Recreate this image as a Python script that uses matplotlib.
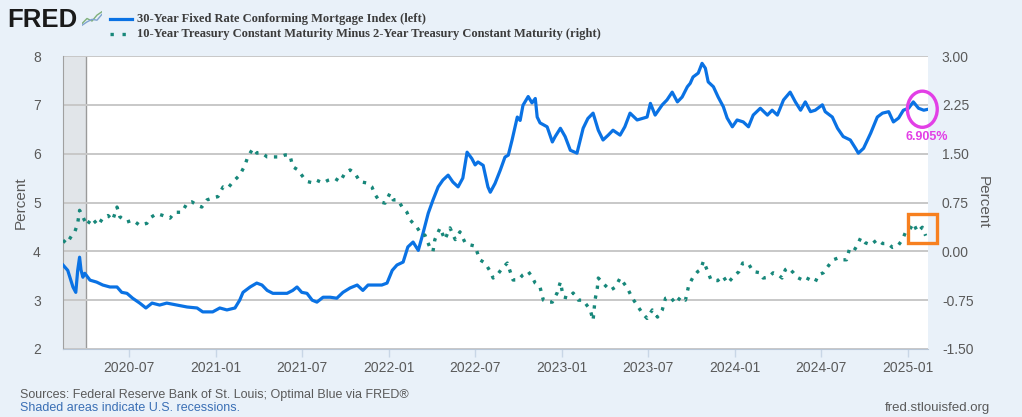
import pandas as pd
import matplotlib
matplotlib.use('Agg')
import matplotlib.pyplot as plt
import matplotlib.dates as mdates
from matplotlib.patches import Ellipse, Rectangle

# 30-year fixed mortgage index (left axis)
mort_dates = [
    '2020-02-13', '2020-02-23', '2020-03-05', '2020-03-11', '2020-03-15', '2020-03-19', '2020-03-22',
    '2020-03-26', '2020-03-30', '2020-04-10', '2020-04-24', '2020-05-07', '2020-05-22', '2020-06-06',
    '2020-06-16', '2020-06-27', '2020-07-09', '2020-07-24', '2020-08-06', '2020-08-19', '2020-09-04',
    '2020-09-19', '2020-10-10', '2020-11-01', '2020-11-22', '2020-12-04', '2020-12-25', '2021-01-09',
    '2021-01-24', '2021-02-10', '2021-02-20', '2021-02-27', '2021-03-14', '2021-03-28', '2021-04-08',
    '2021-04-19', '2021-05-01', '2021-05-16', '2021-05-31', '2021-06-12', '2021-06-21', '2021-07-01',
    '2021-07-12', '2021-07-23', '2021-08-02', '2021-08-15', '2021-08-30', '2021-09-13', '2021-09-26',
    '2021-10-11', '2021-10-26', '2021-11-07', '2021-11-18', '2021-12-03', '2021-12-17', '2021-12-28',
    '2022-01-08', '2022-01-18', '2022-01-31', '2022-02-10', '2022-02-21', '2022-03-04', '2022-03-14',
    '2022-03-25', '2022-04-04', '2022-04-15', '2022-04-25', '2022-05-06', '2022-05-16', '2022-05-27',
    '2022-06-06', '2022-06-15', '2022-06-25', '2022-07-02', '2022-07-08', '2022-07-19', '2022-07-29',
    '2022-08-03', '2022-08-13', '2022-08-24', '2022-09-03', '2022-09-10', '2022-09-18', '2022-09-29',
    '2022-10-05', '2022-10-11', '2022-10-22', '2022-10-30', '2022-11-06', '2022-11-10', '2022-11-16',
    '2022-12-01', '2022-12-12', '2022-12-18', '2022-12-29', '2023-01-08', '2023-01-19', '2023-02-02',
    '2023-02-15', '2023-02-25', '2023-03-08', '2023-03-19', '2023-03-29', '2023-04-09', '2023-04-19',
    '2023-05-04', '2023-05-14', '2023-05-25', '2023-06-09', '2023-06-30', '2023-07-07', '2023-07-17',
    '2023-08-01', '2023-08-11', '2023-08-22', '2023-09-02', '2023-09-12', '2023-09-23', '2023-09-29',
    '2023-10-05', '2023-10-16', '2023-10-24', '2023-10-31', '2023-11-06', '2023-11-17', '2023-11-27',
    '2023-12-08', '2023-12-16', '2023-12-27', '2024-01-06', '2024-01-19', '2024-01-30', '2024-02-09',
    '2024-02-24', '2024-03-10', '2024-03-20', '2024-03-31', '2024-04-13', '2024-04-27', '2024-05-08',
    '2024-05-19', '2024-05-29', '2024-06-09', '2024-06-19', '2024-07-04', '2024-07-10', '2024-07-25',
    '2024-08-05', '2024-08-17', '2024-09-01', '2024-09-12', '2024-09-18', '2024-09-29', '2024-10-14',
    '2024-10-28', '2024-11-08', '2024-11-21', '2024-12-01', '2024-12-12', '2024-12-22', '2025-01-02',
    '2025-01-12', '2025-01-23', '2025-02-03', '2025-02-10',
]
mort_values = [
    3.72, 3.61, 3.27, 3.16, 3.61, 3.88, 3.62,
    3.47, 3.55, 3.41, 3.37, 3.31, 3.27, 3.27,
    3.16, 3.14, 3.04, 2.94, 2.84, 2.94, 2.90,
    2.94, 2.90, 2.86, 2.84, 2.76, 2.76, 2.84,
    2.80, 2.84, 3.00, 3.16, 3.27, 3.35, 3.31,
    3.20, 3.14, 3.14, 3.14, 3.20, 3.27, 3.16,
    3.14, 3.00, 2.96, 3.06, 3.06, 3.04, 3.16,
    3.25, 3.31, 3.20, 3.31, 3.31, 3.31, 3.35,
    3.61, 3.72, 3.78, 4.09, 4.19, 4.02, 4.37,
    4.78, 5.05, 5.32, 5.46, 5.56, 5.42, 5.32,
    5.50, 6.03, 5.90, 5.77, 5.83, 5.76, 5.32,
    5.21, 5.39, 5.66, 5.93, 5.97, 6.28, 6.75,
    6.68, 6.99, 7.17, 7.04, 7.13, 6.75, 6.63,
    6.55, 6.24, 6.35, 6.52, 6.35, 6.07, 6.01,
    6.52, 6.72, 6.83, 6.48, 6.28, 6.38, 6.48,
    6.38, 6.55, 6.83, 6.69, 6.75, 7.03, 6.79,
    7.00, 7.10, 7.26, 7.06, 7.16, 7.37, 7.44,
    7.57, 7.65, 7.85, 7.75, 7.47, 7.37, 7.16,
    6.96, 6.73, 6.55, 6.69, 6.65, 6.55, 6.79,
    6.93, 6.79, 6.89, 6.79, 7.10, 7.26, 7.06,
    6.89, 7.06, 6.86, 6.89, 7.00, 6.86, 6.75,
    6.52, 6.35, 6.28, 6.11, 6.01, 6.11, 6.42,
    6.75, 6.83, 6.86, 6.65, 6.73, 6.89, 6.93,
    7.06, 6.93, 6.89, 6.905,
]

# 10y minus 2y treasury spread (right axis)
spread_dates = [
    '2020-02-13', '2020-02-21', '2020-03-03', '2020-03-09', '2020-03-15', '2020-03-19', '2020-03-26',
    '2020-04-03', '2020-04-14', '2020-04-27', '2020-05-07', '2020-05-18', '2020-05-28', '2020-06-06',
    '2020-06-12', '2020-06-27', '2020-07-09', '2020-07-24', '2020-08-08', '2020-08-14', '2020-08-29',
    '2020-09-11', '2020-09-26', '2020-10-06', '2020-10-21', '2020-11-01', '2020-11-11', '2020-11-22',
    '2020-12-02', '2020-12-13', '2020-12-25', '2021-01-05', '2021-01-16', '2021-01-26', '2021-02-06',
    '2021-02-20', '2021-03-03', '2021-03-09', '2021-03-20', '2021-03-28', '2021-04-08', '2021-04-19',
    '2021-05-01', '2021-05-16', '2021-05-27', '2021-06-06', '2021-06-12', '2021-06-23', '2021-07-04',
    '2021-07-14', '2021-07-25', '2021-08-02', '2021-08-15', '2021-08-25', '2021-09-09', '2021-09-20',
    '2021-09-30', '2021-10-11', '2021-10-21', '2021-11-01', '2021-11-15', '2021-11-26', '2021-12-03',
    '2021-12-13', '2021-12-24', '2022-01-03', '2022-01-10', '2022-01-20', '2022-01-29', '2022-02-08',
    '2022-02-15', '2022-03-01', '2022-03-12', '2022-03-18', '2022-03-29', '2022-04-04', '2022-04-08',
    '2022-04-19', '2022-04-29', '2022-05-10', '2022-05-21', '2022-05-31', '2022-06-11', '2022-06-21',
    '2022-07-02', '2022-07-08', '2022-07-12', '2022-07-23', '2022-08-03', '2022-08-09', '2022-08-18',
    '2022-08-28', '2022-09-08', '2022-09-14', '2022-09-20', '2022-10-01', '2022-10-11', '2022-10-22',
    '2022-10-30', '2022-11-06', '2022-11-16', '2022-11-23', '2022-12-01', '2022-12-12', '2022-12-22',
    '2022-12-29', '2023-01-04', '2023-01-15', '2023-01-25', '2023-02-05', '2023-02-15', '2023-03-02',
    '2023-03-08', '2023-03-12', '2023-03-17', '2023-03-19', '2023-03-29', '2023-04-13', '2023-04-24',
    '2023-05-04', '2023-05-19', '2023-05-30', '2023-06-09', '2023-06-20', '2023-06-30', '2023-07-11',
    '2023-07-22', '2023-08-01', '2023-08-08', '2023-08-18', '2023-08-29', '2023-09-09', '2023-09-19',
    '2023-09-26', '2023-10-04', '2023-10-15', '2023-10-21', '2023-10-27', '2023-11-05', '2023-11-12',
    '2023-11-26', '2023-12-07', '2023-12-17', '2023-12-28', '2024-01-10', '2024-01-18', '2024-01-29',
    '2024-02-09', '2024-02-24', '2024-03-01', '2024-03-12', '2024-03-22', '2024-04-02', '2024-04-10',
    '2024-04-17', '2024-04-23', '2024-05-04', '2024-05-12', '2024-05-23', '2024-05-29', '2024-06-09',
    '2024-06-19', '2024-06-26', '2024-07-06', '2024-07-15', '2024-07-21', '2024-07-27', '2024-08-07',
    '2024-08-15', '2024-08-24', '2024-08-30', '2024-09-08', '2024-09-16', '2024-09-23', '2024-10-03',
    '2024-10-14', '2024-10-28', '2024-11-08', '2024-11-19', '2024-11-29', '2024-12-10', '2024-12-20',
    '2024-12-27', '2025-01-04', '2025-01-12', '2025-01-21', '2025-01-31', '2025-02-07',
]
spread_values = [
    0.17, 0.12, 0.25, 0.30, 0.43, 0.63, 0.53,
    0.40, 0.51, 0.40, 0.51, 0.55, 0.48, 0.68,
    0.53, 0.45, 0.48, 0.40, 0.43, 0.51, 0.58,
    0.55, 0.51, 0.60, 0.60, 0.74, 0.76, 0.71,
    0.68, 0.79, 0.82, 0.84, 0.99, 0.97, 1.07,
    1.17, 1.32, 1.45, 1.58, 1.51, 1.51, 1.45,
    1.45, 1.45, 1.48, 1.48, 1.30, 1.25, 1.14,
    1.07, 1.05, 1.09, 1.05, 1.09, 1.12, 1.07,
    1.20, 1.25, 1.20, 1.07, 1.05, 0.99, 0.87,
    0.76, 0.74, 0.89, 0.79, 0.79, 0.68, 0.60,
    0.48, 0.37, 0.25, 0.25, 0.05, 0.00, 0.18,
    0.36, 0.18, 0.36, 0.18, 0.30, 0.13, 0.10,
    0.08, -0.05, -0.13, -0.18, -0.31, -0.41, -0.36,
    -0.26, -0.18, -0.31, -0.44, -0.44, -0.36, -0.31,
    -0.39, -0.49, -0.55, -0.75, -0.78, -0.78, -0.64,
    -0.47, -0.70, -0.72, -0.64, -0.75, -0.75, -0.90,
    -1.06, -0.75, -0.56, -0.41, -0.49, -0.60, -0.55,
    -0.41, -0.56, -0.72, -0.83, -0.95, -1.03, -0.90,
    -1.01, -0.90, -0.72, -0.70, -0.80, -0.70, -0.75,
    -0.52, -0.41, -0.31, -0.28, -0.15, -0.31, -0.44,
    -0.45, -0.38, -0.49, -0.40, -0.31, -0.18, -0.18,
    -0.31, -0.33, -0.41, -0.40, -0.33, -0.36, -0.41,
    -0.28, -0.25, -0.33, -0.40, -0.44, -0.40, -0.44,
    -0.47, -0.36, -0.33, -0.24, -0.18, -0.13, -0.10,
    -0.13, -0.13, 0.03, 0.00, 0.10, 0.21, 0.13,
    0.10, 0.18, 0.12, 0.12, 0.06, 0.08, 0.18,
    0.30, 0.33, 0.43, 0.30, 0.37, 0.24,
]

tick_dates = ['2020-07-01', '2021-01-01', '2021-07-01', '2022-01-01', '2022-07-01',
              '2023-01-01', '2023-07-01', '2024-01-01', '2024-07-01', '2025-01-01']
tick_labels = ['2020-07', '2021-01', '2021-07', '2022-01', '2022-07',
               '2023-01', '2023-07', '2024-01', '2024-07', '2025-01']
left_ticks = [2, 3, 4, 5, 6, 7, 8]
right_ticks = [-1.50, -0.75, 0.00, 0.75, 1.50, 2.25, 3.00]
recession = ['2020-02-01', '2020-04-01']
x_range = ['2020-02-13', '2025-02-12']
last_label = '6.905%'

BG = '#e9f1f9'
BLUE = '#0a72e4'
TEAL = '#17877a'
GREY_TXT = '#5a5a5a'

plt.rcParams['font.family'] = ['Liberation Sans', 'DejaVu Sans']

fig = plt.figure(figsize=(10.22, 4.17), dpi=100, facecolor=BG)
ax = fig.add_axes([63 / 1022, 1 - 349 / 417, (928 - 63) / 1022, (349 - 56) / 417])
ax.set_facecolor('white')

md = pd.to_datetime(mort_dates)
sd = pd.to_datetime(spread_dates)

ax.axvspan(pd.Timestamp(recession[0]), pd.Timestamp(recession[1]), facecolor='#e1e5e9',
           edgecolor='none', zorder=0)
ax.axvline(pd.Timestamp(recession[1]), color='#9a9a9a', lw=1.0, zorder=0.5)

ax.plot(md, mort_values, color=BLUE, lw=2.3, solid_joinstyle='round', zorder=3)
ax.set_xlim(pd.Timestamp(x_range[0]), pd.Timestamp(x_range[1]))
ax.set_ylim(2, 8)
ax.set_yticks(left_ticks)
ax.yaxis.grid(True, color='#c8c8c8', lw=1.4, zorder=1)
ax.set_axisbelow(True)

ax.set_xticks(pd.to_datetime(tick_dates))
ax.set_xticklabels(tick_labels)
ax.tick_params(axis='x', length=6, width=1, color='#c8d6e6', labelcolor=GREY_TXT,
               labelsize=10, pad=3)
ax.tick_params(axis='y', length=0, labelsize=10, labelcolor=GREY_TXT, pad=16)
ax.set_ylabel('Percent', fontsize=11, color=GREY_TXT, labelpad=4)

for s in ['top', 'right']:
    ax.spines[s].set_visible(False)
ax.spines['left'].set_color('#a0a0a0')
ax.spines['bottom'].set_color('#b8c6d6')

ax2 = ax.twinx()
ax2.plot(sd, spread_values, color=TEAL, lw=2.4, linestyle=(0, (1, 2.0)), zorder=3)
ax2.set_ylim(-1.5, 3.0)
ax2.set_yticks(right_ticks)
ax2.set_yticklabels([f'{v:.2f}' for v in right_ticks])
ax2.tick_params(axis='y', length=0, labelsize=10, labelcolor=GREY_TXT, pad=10)
ax2.set_ylabel('Percent', fontsize=11, color=GREY_TXT, rotation=270, labelpad=12)
for s in ['top', 'right', 'left', 'bottom']:
    ax2.spines[s].set_visible(False)

# highlight annotations near the latest values
xe = mdates.date2num(pd.Timestamp('2025-01-31'))
ax.add_patch(Ellipse((xe, 6.91), width=63, height=0.74, fill=False, edgecolor='#e23fe6',
                     lw=2.4, clip_on=False, zorder=5))
ax.text(mdates.date2num(pd.Timestamp('2025-02-10')), 6.34, last_label, color='#e23fe6',
        fontsize=9, fontweight='bold', ha='center', va='center', clip_on=False, zorder=5)
xr = mdates.date2num(pd.Timestamp('2024-12-31'))
ax2.add_patch(Rectangle((xr, 0.13), 61, 0.44, fill=False, edgecolor='#f7801f', lw=2.4,
                        clip_on=False, zorder=5))

# header: logo and legend
fig.text(7 / 1022, 1 - 20 / 417, 'FRED', fontsize=18.5, fontweight='bold', color='#1a1a1a',
         va='center', ha='left')
icon = fig.add_axes([82 / 1022, 1 - 27 / 417, 20 / 1022, 17 / 417])
icon.set_facecolor('#d9dde2')
icon.plot([0, 1, 2, 3, 4], [0.2, 0.5, 0.35, 0.7, 0.9], color='#7fb07a', lw=1)
icon.plot([0, 1, 2, 3, 4], [0.1, 0.3, 0.45, 0.4, 0.75], color='#7fa3cf', lw=1)
icon.set_xlim(0, 4)
icon.set_ylim(0, 1)
icon.axis('off')

legend_font = ['Liberation Serif', 'DejaVu Serif']
fig.lines.append(plt.Line2D([110 / 1022, 132 / 1022], [1 - 19 / 417, 1 - 19 / 417],
                            transform=fig.transFigure, color=BLUE, lw=2.3))
fig.lines.append(plt.Line2D([110 / 1022, 132 / 1022], [1 - 34 / 417, 1 - 34 / 417],
                            transform=fig.transFigure, color=TEAL, lw=2.4,
                            linestyle=(0, (1, 2.6))))
fig.text(137 / 1022, 1 - 19 / 417, '30-Year Fixed Rate Conforming Mortgage Index (left)',
         family=legend_font, fontsize=9, fontweight='bold', color='#3c3c3c', va='center')
fig.text(137 / 1022, 1 - 34 / 417,
         '10-Year Treasury Constant Maturity Minus 2-Year Treasury Constant Maturity (right)',
         family=legend_font, fontsize=9, fontweight='bold', color='#3c3c3c', va='center')

# footer
fig.text(20 / 1022, 1 - 395 / 417,
         'Sources: Federal Reserve Bank of St. Louis; Optimal Blue via FRED\u00ae',
         fontsize=9, color=GREY_TXT, va='center')
fig.text(20 / 1022, 1 - 408 / 417, 'Shaded areas indicate U.S. recessions.',
         fontsize=9, color='#3a6fb5', va='center')
fig.text(990 / 1022, 1 - 408 / 417, 'fred.stlouisfed.org', fontsize=9.5, color=GREY_TXT,
         va='center', ha='right')

fig.savefig('out.png', dpi=100, facecolor=BG)
